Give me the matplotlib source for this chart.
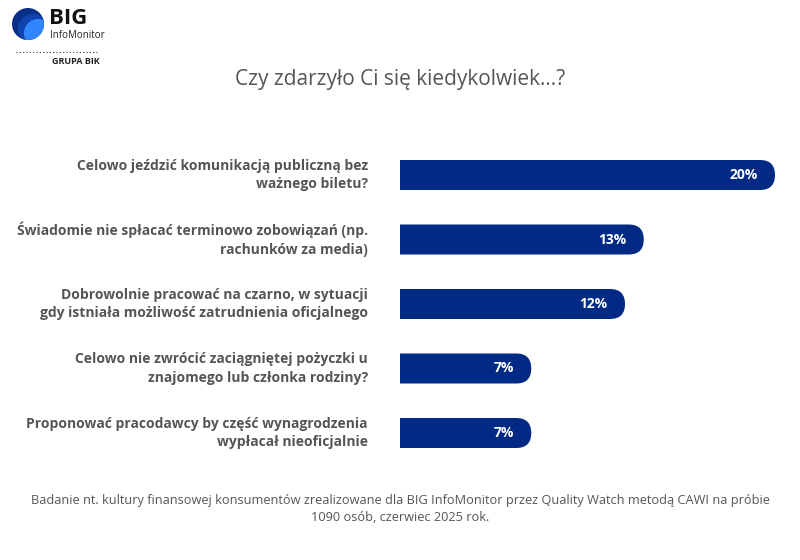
import matplotlib.pyplot as plt
from matplotlib.patches import Circle, FancyBboxPatch
from matplotlib import font_manager

categories = [
    "Celowo jeździć komunikacją publiczną bez\nważnego biletu?",
    "Świadomie nie spłacać terminowo zobowiązań (np.\nrachunków za media)",
    "Dobrowolnie pracować na czarno, w sytuacji\ngdy istniała możliwość zatrudnienia oficjalnego",
    "Celowo nie zwrócić zaciągniętej pożyczki u\nznajomego lub członka rodziny?",
    "Proponować pracodawcy by część wynagrodzenia\nwypłacał nieoficjalnie",
]
values = [20, 13, 12, 7, 7]
value_labels = ["20%", "13%", "12%", "7%", "7%"]

title = "Czy zdarzyło Ci się kiedykolwiek...?"
footer = ("Badanie nt. kultury finansowej konsumentów zrealizowane dla BIG InfoMonitor przez Quality Watch metodą CAWI na próbie\n"
          "1090 osób, czerwiec 2025 rok.")

BAR = "#002a84"
GREY = "#555555"
W, H = 800, 560

names = {f.name for f in font_manager.fontManager.ttflist}
narrow = "Liberation Sans Narrow" if "Liberation Sans Narrow" in names else "Open Sans"

fig = plt.figure(figsize=(8, 5.6), dpi=100)
fig.patch.set_facecolor("white")

# bar axes placed in pixel terms: x from 400px, 18.75 px per percent
px_per_unit = 18.75
ax_left, ax_right = 400, 790
ax_top, ax_bot = 140, 465
ax = fig.add_axes([ax_left / W, 1 - ax_bot / H, (ax_right - ax_left) / W, (ax_bot - ax_top) / H])
ax.set_xlim(0, (ax_right - ax_left) / px_per_unit)
row_px = 64.5
first = 175
ax.set_ylim((ax_bot - first) / row_px, (ax_top - first) / row_px)
ax.axis("off")

bar_h = 30 / row_px
r = 15 / px_per_unit
ys = list(range(len(values)))
# pill shapes starting left of the axes: left rounding is clipped away, right end stays round
for y, v, lab in zip(ys, values, value_labels):
    ax.add_patch(FancyBboxPatch((-2 * r, y - bar_h / 2), v + 2 * r, bar_h,
                                boxstyle=f"round,pad=0,rounding_size={r}",
                                mutation_aspect=(bar_h / 2) / r,
                                facecolor=BAR, linewidth=0, zorder=2))
    ax.annotate(lab, (v, y), xytext=(-12.5, 0), textcoords="offset points",
                ha="right", va="center", color="white", fontsize=10,
                fontweight="bold", family="Open Sans", zorder=4)

# category labels, right-aligned at 368 px
for y, cat in zip(ys, categories):
    fig.text(368 / W, 1 - (first + row_px * y) / H, cat, ha="right", va="center",
             fontsize=10, fontweight="bold", color=GREY, family="Open Sans",
             linespacing=1.45)

fig.text(0.5, 1 - 80 / H, title, ha="center", va="center", fontsize=15,
         color=GREY, family="Open Sans")
fig.text(0.5, 1 - 509 / H, footer, ha="center", va="center", fontsize=9.2,
         color=GREY, family=narrow, linespacing=1.4)

# logo
lax = fig.add_axes([0, 0, 1, 1], zorder=-1)
lax.set_xlim(0, W)
lax.set_ylim(H, 0)
lax.axis("off")
base = Circle((28, 24), 16, color="#0a2f86", linewidth=0)
lax.add_patch(base)
mid = Circle((33, 29), 15, color="#1457d6", alpha=0.5, linewidth=0)
lax.add_patch(mid)
mid.set_clip_path(base)
light = Circle((38, 33), 14, color="#2f86ff", linewidth=0)
lax.add_patch(light)
light.set_clip_path(base)
lax.text(49, 19, "BIG", fontsize=16, fontweight="bold", color="#111111",
         va="center", ha="left", family="Open Sans")
lax.text(50, 35, "InfoMonitor", fontsize=7, color="#222222", va="center",
         ha="left", family="Open Sans")
lax.plot([16, 99], [52, 52], linestyle=(0, (1, 2)), color="#333333", linewidth=0.8)
lax.text(100, 62, "GRUPA BIK", fontsize=6.5, fontweight="bold", color="#222222",
         va="center", ha="right", family="Open Sans")

fig.savefig("out.png", dpi=100, facecolor="white")
